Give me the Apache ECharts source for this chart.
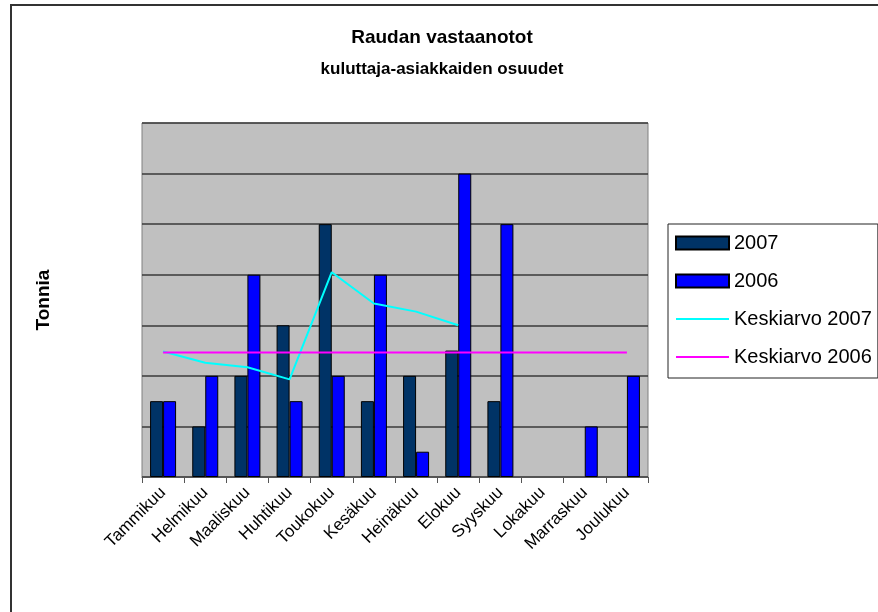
<!DOCTYPE html>
<html>
<head>
<meta charset="utf-8">
<script src="https://cdn.jsdelivr.net/npm/echarts@6/dist/echarts.min.js"></script>
<style>
  html, body { margin: 0; padding: 0; background: #fff; overflow: hidden; }
  #frame { position: absolute; left: 10px; top: 4px; width: 900px; height: 700px;
           border-left: 2px solid #333; border-top: 2px solid #333; }
  #chart { position: absolute; left: 0; top: 0; width: 878px; height: 612px; }
</style>
</head>
<body>
<div id="frame"></div>
<div id="chart"></div>
<script>
// Monthly categories
const months = ['Tammikuu', 'Helmikuu', 'Maaliskuu', 'Huhtikuu', 'Toukokuu', 'Kesäkuu',
                'Heinäkuu', 'Elokuu', 'Syyskuu', 'Lokakuu', 'Marraskuu', 'Joulukuu'];

// Tonnes received per month
const values2007 = [1.5, 1, 2, 3, 5, 1.5, 2, 2.5, 1.5, null, null, null];
const values2006 = [1.5, 2, 4, 1.5, 2, 4, 0.5, 6, 5, null, 1, 2];

// Averages
const avg2007 = [2.48, 2.26, 2.17, 1.93, 4.05, 3.43, 3.27, 3.0, null, null, null, null];
const avg2006 = [2.46, 2.46, 2.46, 2.46, 2.46, 2.46, 2.46, 2.46, 2.46, 2.46, 2.46, 2.46];

const FONT = '"Liberation Sans", Arial, sans-serif';

const chart = echarts.init(document.getElementById('chart'), null, { renderer: 'canvas' });

chart.setOption({
  animation: false,
  backgroundColor: 'transparent',
  title: {
    text: 'Raudan vastaanotot',
    subtext: 'kuluttaja-asiakkaiden osuudet',
    left: 437,
    textAlign: 'center',
    top: 23,
    itemGap: 11,
    textStyle: { fontFamily: FONT, fontSize: 19, fontWeight: 'bold', color: '#000', lineHeight: 20 },
    subtextStyle: { fontFamily: FONT, fontSize: 17, fontWeight: 'bold', color: '#000', lineHeight: 20 }
  },
  legend: {
    orient: 'vertical',
    left: 668,
    top: 224,
    padding: [9, 6, 11, 7],
    borderColor: '#222',
    borderWidth: 1,
    backgroundColor: '#fff',
    itemWidth: 53,
    itemHeight: 13,
    itemGap: 18,
    textStyle: { fontFamily: FONT, fontSize: 20, color: '#000' },
    data: [
      { name: '2007', icon: 'rect' },
      { name: '2006', icon: 'rect' },
      { name: 'Keskiarvo 2007', itemStyle: { opacity: 0 } },
      { name: 'Keskiarvo 2006', itemStyle: { opacity: 0 } }
    ]
  },
  grid: {
    left: 142, top: 123, right: 230, bottom: 135,
    show: true,
    backgroundColor: '#C0C0C0',
    borderColor: '#808080',
    borderWidth: 1
  },
  xAxis: {
    type: 'category',
    data: months,
    boundaryGap: true,
    axisLine: { show: true, lineStyle: { color: '#555', width: 1 } },
    axisTick: { show: true, length: 6, lineStyle: { color: '#555' } },
    axisLabel: { rotate: 45, fontFamily: FONT, fontSize: 17, color: '#000', margin: 13, interval: 0 }
  },
  yAxis: {
    type: 'value',
    min: 0, max: 7, interval: 1,
    name: 'Tonnia',
    nameLocation: 'middle',
    nameRotate: 90,
    nameGap: 89,
    nameTextStyle: { fontFamily: FONT, fontSize: 19, fontWeight: 'bold', color: '#000' },
    axisLine: { show: false },
    axisTick: { show: false },
    axisLabel: { show: false },
    splitLine: { show: true, lineStyle: { color: '#3a3a3a', width: 1.5 } }
  },
  series: [
    {
      name: '2007', type: 'bar', data: values2007,
      barWidth: 13, barGap: '0%',
      itemStyle: { color: '#003366', borderColor: '#000', borderWidth: 1 }
    },
    {
      name: '2006', type: 'bar', data: values2006,
      barWidth: 13, barGap: '0%',
      itemStyle: { color: '#0000FF', borderColor: '#000', borderWidth: 1 }
    },
    {
      name: 'Keskiarvo 2007', type: 'line', data: avg2007,
      symbol: 'none', connectNulls: false,
      itemStyle: { color: '#00FFFF' },
      lineStyle: { color: '#00FFFF', width: 2 }
    },
    {
      name: 'Keskiarvo 2006', type: 'line', data: avg2006,
      symbol: 'none',
      itemStyle: { color: '#FF00FF' },
      lineStyle: { color: '#FF00FF', width: 2 }
    }
  ]
});
</script>
</body>
</html>
